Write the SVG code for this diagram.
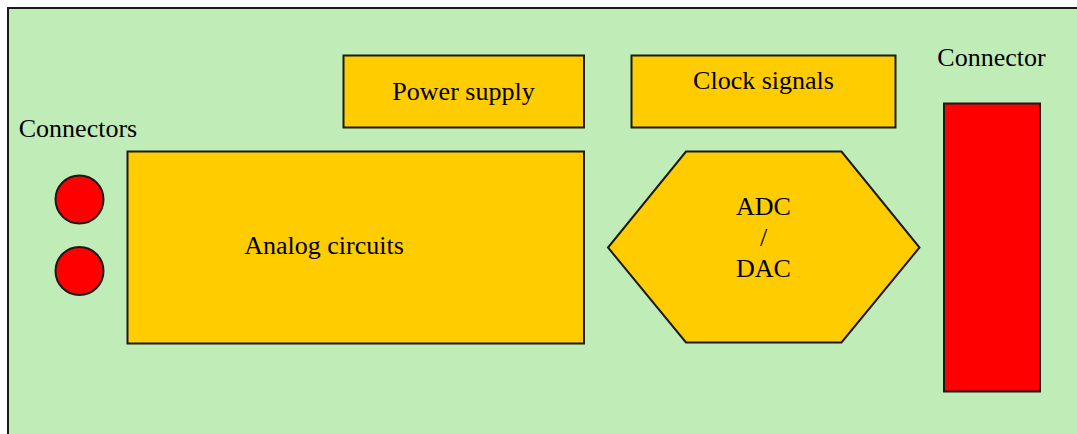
<svg xmlns="http://www.w3.org/2000/svg" width="1077" height="434" viewBox="0 0 1077 434">
<style>
.box{fill:#ffcc00;stroke:#1a1a1a;stroke-width:2}
.red{fill:#ff0000;stroke:#1a1a1a;stroke-width:2}
.t{font-family:"Liberation Serif","Times New Roman",serif;font-size:26px;fill:#000;text-anchor:middle}
</style>
<rect x="8" y="8" width="1080" height="440" fill="#c0ecb8" stroke="#1a1a1a" stroke-width="2"/>
<g id="power-supply">
<rect class="box" x="343.5" y="55.5" width="240.5" height="72"/>
<text class="t" x="463.5" y="99.5">Power supply</text>
</g>
<g id="clock-signals">
<rect class="box" x="631.5" y="55.5" width="264" height="72"/>
<text class="t" x="763.5" y="89">Clock signals</text>
</g>
<g id="analog-circuits">
<rect class="box" x="127.5" y="151.5" width="456.5" height="192"/>
<text class="t" x="324" y="253.5">Analog circuits</text>
</g>
<g id="adc-dac">
<polygon class="box" points="686,151.5 841.5,151.5 919.5,247.5 841.5,342.5 686,342.5 608,247.5"/>
<text class="t" x="763.5" y="215">ADC</text>
<text class="t" x="763.5" y="246">/</text>
<text class="t" x="763.5" y="277">DAC</text>
</g>
<g id="connectors">
<text class="t" x="78" y="137">Connectors</text>
<circle class="red" cx="79.5" cy="199.5" r="24"/>
<circle class="red" cx="79.5" cy="271" r="24"/>
</g>
<g id="connector">
<text class="t" x="991.5" y="66">Connector</text>
<rect class="red" x="944" y="103.5" width="96" height="288"/>
</g>
<g id="connectors-lines"/>
</svg>
